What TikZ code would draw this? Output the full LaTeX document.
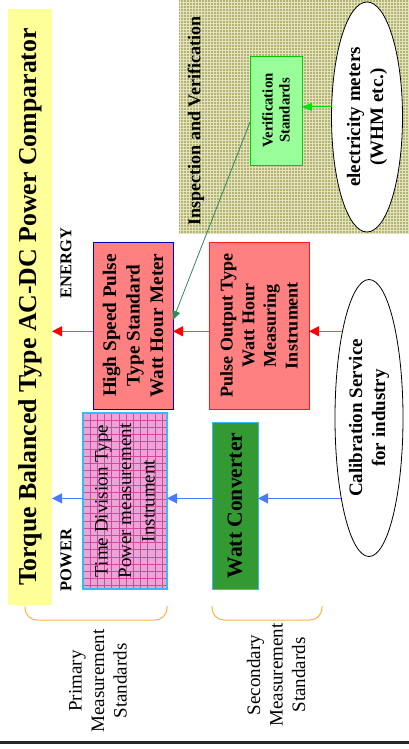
\documentclass[tikz,border=0pt]{standalone}
\usepackage{fontspec}
\setmainfont{Liberation Serif}
\usepackage{tikz}
\usetikzlibrary{arrows.meta}
\usetikzlibrary{shapes.geometric}
\usetikzlibrary{patterns}

\definecolor{titleyellow}{HTML}{FFFF99}
\definecolor{salmonfill}{HTML}{FF8080}
\definecolor{pinkfill}{HTML}{EBA5D5}
\definecolor{pinkgrid}{HTML}{D2479F}
\definecolor{wattgreen}{HTML}{339933}
\definecolor{verifgreen}{HTML}{99FF99}
\definecolor{khaki}{HTML}{B4B474}
\definecolor{khakilight}{HTML}{E2E2BC}
\definecolor{bracecol}{HTML}{FFB347}
\definecolor{redline}{HTML}{FF4848}
\definecolor{blueline}{HTML}{4A78FF}
\definecolor{seagreen}{HTML}{2E8B57}

\tikzset{
  standardbox/.style={rectangle,rotate=90,inner sep=0pt,outer sep=0pt,align=center},
  serviceoval/.style={ellipse,rotate=90,draw=black,fill=white,line width=0.8pt,inner sep=0pt,
    outer sep=0pt,align=center,font=\bfseries\fontsize{19}{23}\selectfont},
  vtext/.style={rotate=90,inner sep=0pt,align=center},
  redarrow/.style={draw=redline,line width=0.9pt,-{Triangle[length=10pt,width=10pt,color=red]}},
  bluearrow/.style={draw=blueline,line width=0.9pt,-{Triangle[length=10pt,width=10pt,color=blueline]}},
  bracket/.style={draw=bracecol,line width=1pt,rounded corners=12pt}
}

\begin{document}
\begin{tikzpicture}[x=1pt,y=-1pt]
\useasboundingbox (0,0) rectangle (409,749);
% zone inspection
\fill[khaki] (179,0) rectangle (409,233);
\fill[pattern=grid,pattern color=khakilight] (179,0) rectangle (409,233);
\node[vtext,font=\bfseries\fontsize{18}{21}\selectfont] (insp) at (196,121) {Inspection and Verification};
% titre
\node[standardbox,minimum width=596pt,minimum height=44pt,fill=titleyellow,
  font=\bfseries\fontsize{25.8}{30}\selectfont] (title) at (30,307)
  {Torque Balanced Type AC-DC Power Comparator};
\node[vtext,font=\bfseries\fontsize{16.5}{19}\selectfont] (energy) at (66,263) {ENERGY};
\node[vtext,font=\bfseries\fontsize{16.5}{19}\selectfont] (power) at (66,560) {POWER};
% boites
\node[standardbox,minimum width=167pt,minimum height=80pt,fill=salmonfill,draw=blue!70!black,
  line width=0.9pt,font=\bfseries\fontsize{19.2}{23.5}\selectfont] (hsp) at (133,325.5)
  {High Speed Pulse\\Type Standard\\Watt Hour Meter};
\node[standardbox,minimum width=167pt,minimum height=100pt,fill=salmonfill,draw=red!90,
  line width=0.9pt,font=\bfseries\fontsize{18}{21.7}\selectfont] (pulse) at (259,325.5)
  {Pulse Output Type\\Watt Hour\\Measuring\\Instrument};
\node[standardbox,minimum width=176pt,minimum height=84pt,fill=pinkfill,draw=cyan!80,line width=1.2pt,
  path picture={\draw[pinkgrid,step=7.2pt,line width=0.35pt] (path picture bounding box.south west)
    grid (path picture bounding box.north east);},
  font=\fontsize{19}{23.5}\selectfont] (tdiv) at (125,501)
  {Time Division Type\\Power measurement\\Instrument};
\node[standardbox,minimum width=167pt,minimum height=46pt,fill=wattgreen,draw=cyan!80,
  line width=0.9pt,font=\bfseries\fontsize{21.6}{25}\selectfont] (watt) at (235,505.5) {Watt Converter};
\node[standardbox,minimum width=109pt,minimum height=52pt,fill=verifgreen,draw=green!80!black,
  line width=0.9pt,font=\bfseries\fontsize{14.8}{17.2}\selectfont] (verif) at (276,110.5)
  {Verification\\Standards};
% ellipses
\node[serviceoval,minimum width=277pt,minimum height=68pt] (cal) at (369,418)
  {Calibration Service\\for industry};
\node[serviceoval,minimum width=230pt,minimum height=71pt] (meters) at (367,117)
  {electricity meters\\(WHM etc.)};
% fleches
\draw[redarrow] (cal.17) -- (cal.17 -| pulse.south);
\draw[redarrow] (pulse.north |- cal.17) -- (hsp.south |- cal.17);
\draw[redarrow] (hsp.north |- cal.17) -- (title.south |- cal.17);
\draw[bluearrow] (cal.161) -- (cal.161 -| watt.south);
\draw[bluearrow] (watt.north |- cal.161) -- (tdiv.south |- cal.161);
\draw[bluearrow] (tdiv.north |- cal.161) -- (title.south |- cal.161);
\draw[draw=green!85!black,line width=0.8pt,-{Triangle[length=10pt,width=8pt,color=green!90!black]}]
  (meters.74) -- (meters.74 -| verif.south);
\draw[draw=seagreen,line width=0.8pt,-{Triangle[length=9pt,width=8pt,color=seagreen]}]
  (verif.114) -- (hsp.-82);
% accolades
\draw[bracket] (25,606) -- (25,620) -- (167,620) -- (167,606);
\draw[bracket] (212,606) -- (212,620) -- (322,620) -- (322,606);
\node[vtext,font=\fontsize{19}{22.5}\selectfont] (primary) at (98,681) {Primary\\Measurement\\Standards};
\node[vtext,font=\fontsize{19}{22.5}\selectfont] (secondary) at (276,675) {Secondary\\Measurement\\Standards};
% ligne
\draw[line width=3pt,black!85] (0,742) -- (409,742);
\end{tikzpicture}
\end{document}
